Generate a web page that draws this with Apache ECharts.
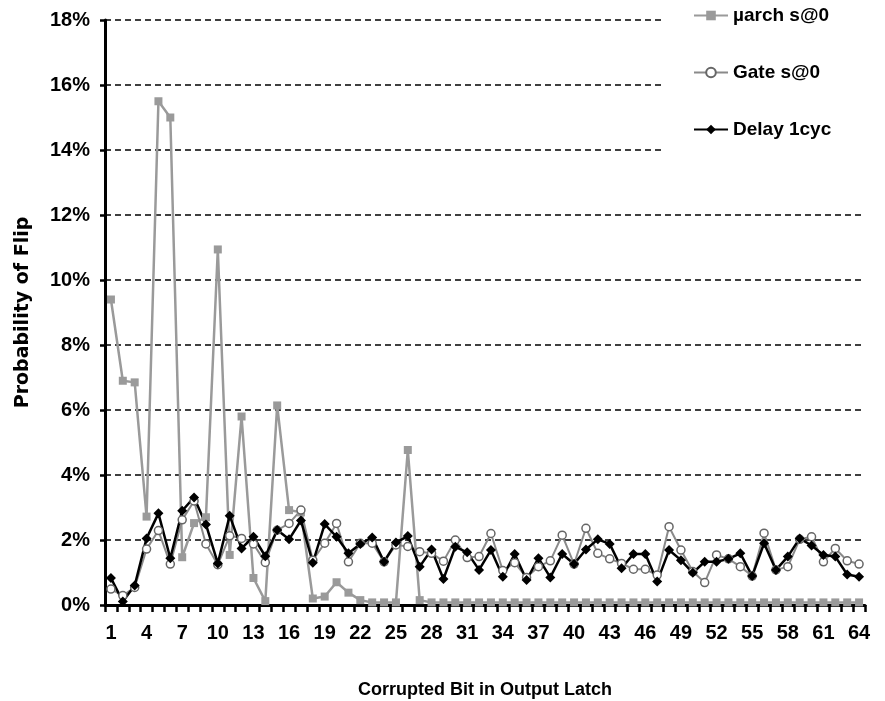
<!DOCTYPE html>
<html>
<head>
<meta charset="utf-8">
<title>Probability of Flip</title>
<script src="https://cdn.jsdelivr.net/npm/echarts@6.0.0/dist/echarts.min.js"></script>
<style>
    html, body { margin: 0; padding: 0; background: #fff; }
    #flip { width: 885px; height: 701px; }
</style>
</head>
<body>
<div id="flip"></div>
<script>
var bits = ['1', '2', '3', '4', '5', '6', '7', '8', '9', '10', '11', '12', '13', '14', '15', '16',
    '17', '18', '19', '20', '21', '22', '23', '24', '25', '26', '27', '28', '29', '30', '31', '32',
    '33', '34', '35', '36', '37', '38', '39', '40', '41', '42', '43', '44', '45', '46', '47', '48',
    '49', '50', '51', '52', '53', '54', '55', '56', '57', '58', '59', '60', '61', '62', '63', '64'];

var yTicks = [0, 2, 4, 6, 8, 10, 12, 14, 16, 18];

var uarch = [9.4, 6.9, 6.85, 2.72, 15.5, 15.0, 1.47, 2.52, 2.7, 10.94, 1.54, 5.8, 0.83, 0.12, 6.14, 2.92,
    2.85, 0.2, 0.26, 0.7, 0.38, 0.15, 0.08, 0.08, 0.08, 4.77, 0.15, 0.08, 0.08, 0.08, 0.08, 0.08,
    0.08, 0.08, 0.08, 0.08, 0.08, 0.08, 0.08, 0.08, 0.08, 0.08, 0.08, 0.08, 0.08, 0.08, 0.08, 0.08,
    0.08, 0.08, 0.08, 0.08, 0.08, 0.08, 0.08, 0.08, 0.08, 0.08, 0.08, 0.08, 0.08, 0.08, 0.08, 0.08];

var gate = [0.49, 0.29, 0.54, 1.72, 2.29, 1.26, 2.62, 3.2, 1.88, 1.24, 2.13, 2.05, 1.88, 1.31, 2.3, 2.51,
    2.92, 1.38, 1.9, 2.51, 1.33, 1.9, 1.9, 1.33, 1.85, 1.8, 1.64, 1.59, 1.35, 2.0, 1.46, 1.49,
    2.2, 1.06, 1.3, 0.85, 1.18, 1.36, 2.15, 1.26, 2.36, 1.59, 1.42, 1.28, 1.1, 1.1, 0.92, 2.41,
    1.69, 1.03, 0.69, 1.54, 1.42, 1.18, 0.89, 2.21, 1.08, 1.18, 2.02, 2.1, 1.33, 1.74, 1.36, 1.26];

var delay = [0.83, 0.11, 0.6, 2.05, 2.82, 1.44, 2.9, 3.31, 2.48, 1.28, 2.75, 1.74, 2.1, 1.5, 2.31, 2.02,
    2.6, 1.3, 2.49, 2.1, 1.59, 1.88, 2.08, 1.33, 1.92, 2.12, 1.18, 1.71, 0.8, 1.79, 1.62, 1.08,
    1.69, 0.87, 1.57, 0.77, 1.44, 0.85, 1.57, 1.26, 1.71, 2.02, 1.88, 1.13, 1.57, 1.57, 0.72, 1.69,
    1.38, 0.99, 1.33, 1.33, 1.42, 1.59, 0.89, 1.9, 1.08, 1.49, 2.05, 1.83, 1.54, 1.49, 0.94, 0.87];

(function () {
    var sans = "'Liberation Sans', Arial, sans-serif";
    var chart = echarts.init(document.getElementById('flip'));
    var option = {
        animation: false,
        legend: {
            orient: 'vertical',
            left: 662,
            top: 0,
            padding: [6, 30, 14, 31],
            backgroundColor: '#fff',//盖住右上角的虚线
            itemGap: 38,
            itemWidth: 34,
            itemHeight: 12,
            textStyle: {
                fontFamily: sans,
                fontWeight: 'bold',
                fontSize: 19,
                color: '#000'
            },
            data: ['µarch s@0', 'Gate s@0', 'Delay 1cyc']
        },
        grid: {
            left: 105,
            right: 20,
            top: 20,
            bottom: 96,
            containLabel: false,
            outerBoundsMode: 'none'//不让坐标轴名称挤压绘图区
        },
        xAxis: {
            type: 'category',
            boundaryGap: true,
            data: bits,
            name: 'Corrupted Bit in Output Latch',
            nameLocation: 'middle',
            nameGap: 76,
            nameTextStyle: {
                fontFamily: sans,
                fontWeight: 'bold',
                fontSize: 18,
                color: '#000'
            },
            axisLine: { lineStyle: { color: '#000', width: 3 } },
            axisTick: {
                show: true,
                interval: 0,
                length: 7,
                lineStyle: { color: '#000', width: 2.5 }
            },
            axisLabel: {
                interval: 2,//每3个显示一个
                margin: 18,
                fontFamily: sans,
                fontWeight: 'bold',
                fontSize: 20,
                color: '#000'
            },
            splitLine: { show: false }
        },
        yAxis: {
            type: 'value',
            min: yTicks[0],
            max: yTicks[yTicks.length - 1],
            interval: yTicks[1] - yTicks[0],
            name: 'Probability of Flip',
            nameLocation: 'middle',
            nameGap: 72,
            nameRotate: 90,
            nameTextStyle: {
                fontFamily: "'DejaVu Sans', sans-serif",
                fontWeight: 'bold',
                fontSize: 19,
                color: '#000'
            },
            axisLine: { show: true, lineStyle: { color: '#000', width: 3 } },
            axisTick: { show: true, length: 5, lineStyle: { color: '#000', width: 2.5 } },
            axisLabel: {
                margin: 15,
                fontFamily: sans,
                fontWeight: 'bold',
                fontSize: 20,
                color: '#000',
                formatter: '{value}%'
            },
            splitLine: {
                show: true,
                lineStyle: { color: '#000', width: 1.5, type: [6, 4] }
            }
        },
        series: [
            {
                name: 'µarch s@0',
                type: 'line',
                data: uarch,
                symbol: 'rect',
                symbolSize: 8,
                showAllSymbol: true,
                itemStyle: { color: '#9a9a9a' },
                lineStyle: { color: '#9a9a9a', width: 2.5 }
            },
            {
                name: 'Gate s@0',
                type: 'line',
                data: gate,
                symbol: 'circle',
                symbolSize: 8,
                showAllSymbol: true,
                itemStyle: { color: '#fff', borderColor: '#666', borderWidth: 1.5 },
                lineStyle: { color: '#8a8a8a', width: 2 }
            },
            {
                name: 'Delay 1cyc',
                type: 'line',
                data: delay,
                symbol: 'diamond',
                symbolSize: 10,
                showAllSymbol: true,
                itemStyle: { color: '#000' },
                lineStyle: { color: '#000', width: 2.5 }
            }
        ]
    };
    chart.setOption(option);
    window.addEventListener('resize', function () {
        chart.resize();
    });
})();
</script>
</body>
</html>
